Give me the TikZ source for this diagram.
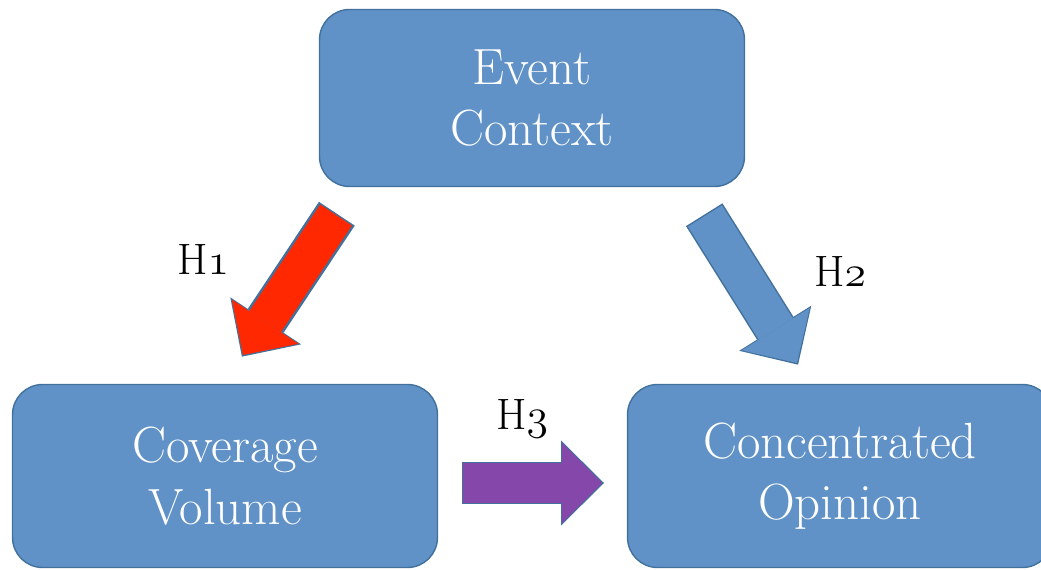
\documentclass[tikz,border=0pt]{standalone}
\usetikzlibrary{arrows.meta, positioning}
\definecolor{boxblue}{RGB}{96,146,199}
\definecolor{boxedge}{RGB}{65,113,156}
\definecolor{hred}{RGB}{255,40,0}
\definecolor{hpurple}{RGB}{133,72,170}
\newcommand{\osn}[1]{{\fontencoding{OML}\fontfamily{lmm}\fontseries{m}\fontshape{it}\selectfont #1}}

\begin{document}
\begin{tikzpicture}[x=0.02cm,y=-0.02cm]
    \tikzstyle{factor}=[shape=rectangle,rounded corners=0.6cm,draw=boxedge,thick,fill=boxblue,text=white,minimum width=8.5cm,minimum height=3.66cm,align=center,font=\fontsize{29}{35}\selectfont]
    \tikzstyle{hyp}=[anchor=base,font=\fontsize{25}{30}\selectfont]
    \tikzstyle{fat}=[line width=0.8cm,-{Triangle[length=0.8cm,width=1.6cm,line width=0pt]},
        preaction={draw=boxedge,line width=0.86cm,shorten >=-0.04cm,shorten <=-0.03cm,
        -{Triangle[length=0.86cm,width=1.7cm,line width=0pt]}}]

    \useasboundingbox (0,0) rectangle (1041,570);

    \node[factor, minimum height=3.54cm] (ctx) at (532,98) {Event\\Context};
    \node[factor] (cov) at (225,476) {Coverage\\Volume};
    \node[factor] (opi) at (840,476) {Concentrated\\Opinion};

    \coordinate (h1s) at (336,215);
    \coordinate (h1e) at (243,355);
    \coordinate (h2s) at (705,216);
    \coordinate (h2e) at (797,363);
    \coordinate (h3s) at (463,483);
    \coordinate (h3e) at (602,483);

    \draw[fat, draw=hred, line width=0.76cm] (h1s) -- (h1e);
    \draw[fat, draw=boxblue] (h2s) -- (h2e);
    \draw[fat, draw=hpurple] (h3s) -- (h3e);

    \node[hyp] (l1) at (203,275) {H\osn{1}};
    \node[hyp] (l2) at (840,287) {H\osn{2}};
    \node[hyp] (l3) at (522,430) {H\osn{3}};

\end{tikzpicture}
\end{document}
